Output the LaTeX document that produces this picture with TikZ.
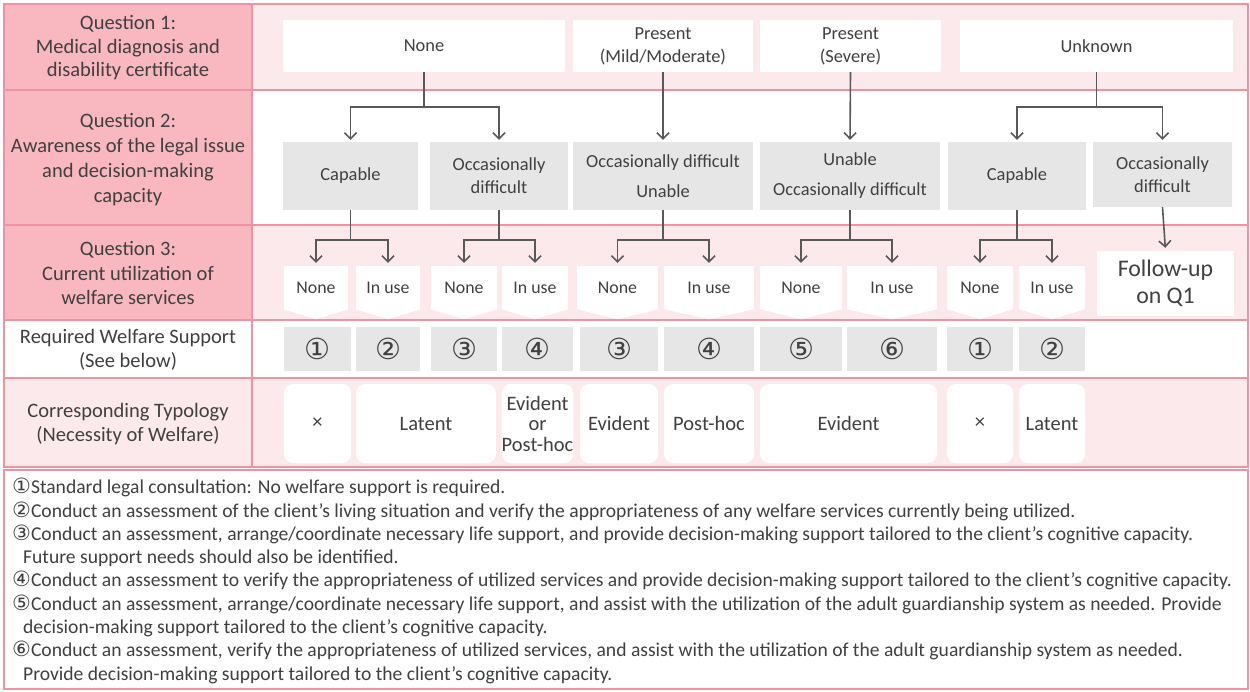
\documentclass[tikz,border=0pt]{standalone}
\usepackage{fontspec}
\setmainfont{Carlito}
\newfontfamily\circfont{DejaVu Sans}
\usetikzlibrary{arrows.meta,calc}
\definecolor{pkborder}{RGB}{242,145,160}
\definecolor{pkdark}{RGB}{249,183,192}
\definecolor{pklight}{RGB}{252,233,236}
\definecolor{graybox}{RGB}{230,230,230}
\definecolor{txt}{RGB}{64,64,64}
\definecolor{arrowc}{RGB}{89,89,89}
\newcommand\circnum[1]{{\circfont\fontsize{21}{23.3}\selectfont #1}}
\begin{document}
\begin{tikzpicture}[x=1pt,y=-1pt,
  hdr/.style={text=txt,align=center,font=\fontsize{20.5}{24.5}\selectfont},
  grid/.style={draw=pkborder,line width=1.5pt},
  bx/.style={inner sep=0pt,text=txt,align=center,font=\fontsize{18.4}{23}\selectfont},
  wbox/.style={bx,fill=white},
  gbox/.style={bx,fill=graybox},
  pbox/.style={bx,fill=white,font=\fontsize{17.8}{22}\selectfont},
  nbox/.style={bx,fill=graybox,font=\circfont\fontsize{29}{30}\selectfont},
  rbox/.style={bx,fill=white,rounded corners=9pt,font=\fontsize{20.5}{20.5}\selectfont},
  ln/.style={draw=arrowc,line width=1.6pt},
  arr/.style={ln,-{Straight Barb[length=6pt,width=12pt]},shorten >=2pt}
]
\useasboundingbox (0,0) rectangle (1250,691);
% backgrounds
\fill[white] (0,0) rectangle (1250,691);
\fill[pkdark] (4,4) rectangle (252,320);
\fill[pklight] (252,4) rectangle (1248,90);
\fill[white] (252,90) rectangle (1248,225);
\fill[pklight] (252,225) rectangle (1248,320);
\fill[white] (4,320) rectangle (1248,378);
\fill[pklight] (4,378) rectangle (1248,467);
\draw[grid] (4,4) rectangle (1248,467);
\draw[grid] (4,90) -- (1248,90);
\draw[grid] (4,225) -- (1248,225);
\draw[grid] (4,320) -- (1248,320);
\draw[grid] (4,378) -- (1248,378);
\draw[grid] (252,4) -- (252,467);
\draw[grid,fill=white] (4,470) rectangle (1248,689);

% left headers
\node[hdr,font=\fontsize{20.5}{23.5}\selectfont] (h1) at (128,48) {Question 1:\\Medical diagnosis and\\disability certificate};
\node[hdr,font=\fontsize{20.5}{25}\selectfont] (h2) at (128,160) {Question 2:\\Awareness of the legal issue\\and decision-making\\capacity};
\node[hdr] (h3) at (128,273) {Question 3:\\Current utilization of\\welfare services};
\node[hdr] (h4) at (128,350) {Required Welfare Support\\(See below)};
\node[hdr] (h5) at (128,424) {Corresponding Typology\\(Necessity of Welfare)};

% row 1
\node[wbox,minimum width=282,minimum height=52] (none1) at (424,46) {None};
\node[wbox,minimum width=180,minimum height=52] (pmm) at (663,46) {Present\\(Mild/Moderate)};
\node[wbox,minimum width=181,minimum height=52] (psev) at (850.5,46) {Present\\(Severe)};
\node[wbox,minimum width=273,minimum height=52] (unk) at (1096.5,46) {Unknown};

% row 2
\node[gbox,minimum width=135,minimum height=68] (cap1) at (350.5,176) {Capable};
\node[gbox,minimum width=138,minimum height=68] (occ1) at (499,176) {Occasionally\\difficult};
\node[gbox,minimum width=180,minimum height=68,font=\fontsize{18.4}{30}\selectfont] (odu) at (663,176) {Occasionally difficult\\Unable};
\node[gbox,minimum width=180,minimum height=68,font=\fontsize{18.4}{30}\selectfont] (uod) at (850,176) {Unable\\Occasionally difficult};
\node[gbox,minimum width=138,minimum height=68] (cap2) at (1017,176) {Capable};
\node[gbox,minimum width=139,minimum height=65] (occ2) at (1162.5,174.5) {Occasionally\\difficult};

% row 3 (pentagon boxes)
\foreach \nm/\cx/\w/\t in {n1/316/64/None,u1/388/64/In use,n2/464/66/None,u2/535/66/In use,n3/617.5/81/None,u3/709/90/In use,n4/801/82/None,u4/892/90/In use,n5/980/66/None,u5/1052/66/In use}{
  \node[pbox,minimum width=\w,minimum height=43] (\nm) at (\cx,287.5) {\t};
  \fill[white] (\nm.south west) -- ($(\nm.south)+(0,10)$) -- (\nm.south east) -- cycle;
}
\node[wbox,minimum width=137,minimum height=65,font=\fontsize{23.8}{27}\selectfont] (fol) at (1165.5,283.5) {Follow-up\\on Q1};

% row 4
\foreach \nm/\cx/\w/\t in {r1/317.5/67/①,r2/388/64/②,r3/464/66/③,r4/537.5/71/④,r5/619/78/③,r6/709/90/④,r7/801/82/⑤,r8/892/90/⑥,r9/980/66/①,r10/1052/66/②}{
  \node[nbox,minimum width=\w,minimum height=44] (\nm) at (\cx,349) {\t};
}

% row 5
\node[rbox,minimum width=67,minimum height=79] (t1) at (317.5,423.5) {×};
\node[rbox,minimum width=140,minimum height=79] (t2) at (426,423.5) {Latent};
\node[rbox,minimum width=71,minimum height=79] (t3) at (537.5,423.5) {Evident\\or\\Post-hoc};
\node[rbox,minimum width=78,minimum height=79] (t4) at (619,423.5) {Evident};
\node[rbox,minimum width=90,minimum height=79] (t5) at (709,423.5) {Post-hoc};
\node[rbox,minimum width=177,minimum height=79] (t6) at (848.5,423.5) {Evident};
\node[rbox,minimum width=66,minimum height=79] (t7) at (980,423.5) {×};
\node[rbox,minimum width=66,minimum height=79] (t8) at (1052,423.5) {Latent};

% connectors row1 -> row2
\coordinate (j1) at (none1.south |- 0,107);
\coordinate (j2) at (unk.south |- 0,107);
\draw[ln] (none1.south) -- (j1);
\draw[arr] (j1) -| (cap1.north);
\draw[arr] (j1) -| (occ1.north);
\draw[arr] (pmm.south) -- (odu.north);
\draw[arr] (psev.south) -- (uod.north);
\draw[ln] (unk.south) -- (j2);
\draw[arr] (j2) -| (cap2.north);
\draw[arr] (j2) -| (occ2.north);

% connectors row2 -> row3
\foreach \src/\a/\b in {cap1/n1/u1,occ1/n2/u2,odu/n3/u3,uod/n4/u4,cap2/n5/u5}{
  \coordinate (j\src) at (\src.south |- 0,240);
  \draw[ln] (\src.south) -- (j\src);
  \draw[arr,shorten >=3pt] (j\src) -| (\a.north);
  \draw[arr,shorten >=3pt] (j\src) -| (\b.north);
}
\draw[arr,shorten >=3pt] (occ2.south) -- (fol.north);

% notes
\node[anchor=north west,inner sep=0pt,text=txt,align=left,font=\fontsize{19.6}{23.3}\selectfont] (notes) at (12,478) {%
\circnum{①}Standard legal consultation: No welfare support is required.\\
\circnum{②}Conduct an assessment of the client's living situation and verify the appropriateness of any welfare services currently being utilized.\\
\circnum{③}Conduct an assessment, arrange/coordinate necessary life support, and provide decision-making support tailored to the client’s cognitive capacity.\\
\hspace*{11pt}Future support needs should also be identified.\\
\circnum{④}Conduct an assessment to verify the appropriateness of utilized services and provide decision-making support tailored to the client’s cognitive capacity.\\
\circnum{⑤}Conduct an assessment, arrange/coordinate necessary life support, and assist with the utilization of the adult guardianship system as needed. Provide\\
\hspace*{11pt}decision-making support tailored to the client’s cognitive capacity.\\
\circnum{⑥}Conduct an assessment, verify the appropriateness of utilized services, and assist with the utilization of the adult guardianship system as needed.\\
\hspace*{11pt}Provide decision-making support tailored to the client’s cognitive capacity.};
\end{tikzpicture}
\end{document}
